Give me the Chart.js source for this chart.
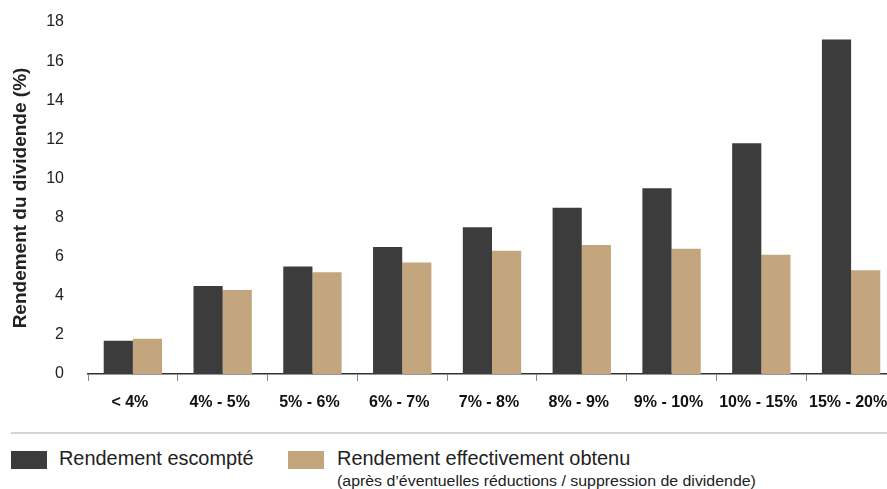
<!DOCTYPE html>
<html lang="fr">
<head>
<meta charset="utf-8">
<script src="https://cdn.jsdelivr.net/npm/chart.js@4/dist/chart.umd.min.js"></script>
<style>
  html, body { margin: 0; padding: 0; background: #fff; overflow: hidden; width: 887px; height: 489px; }
  #wrap { position: absolute; left: 0; top: 0; width: 896px; height: 413px; }
  #rule { position: absolute; left: 11px; top: 432px; width: 876px; height: 2px; background: #d4d4d4; }
  .sw { position: absolute; top: 451px; width: 36px; height: 18px; }
  .lbl { position: absolute; font-family: "Liberation Sans", Arial, sans-serif; color: #222; white-space: nowrap; transform-origin: left top; }
</style>
</head>
<body>
<div id="wrap"><canvas id="yieldChart"></canvas></div>
<div id="rule"></div>
<div class="sw" style="left:11px; background:#3c3c3c;"></div>
<div class="lbl" data-w="195" style="left:59px; top:447px; font-size:20px;">Rendement escompté</div>
<div class="sw" style="left:288px; background:#c4a67e;"></div>
<div class="lbl" data-w="293" style="left:337px; top:447px; font-size:20px;">Rendement effectivement obtenu</div>
<div class="lbl" data-w="419" style="left:337px; top:473px; font-size:14px;">(après d’éventuelles réductions / suppression de dividende)</div>
<script>
const categories = ["< 4%", "4% - 5%", "5% - 6%", "6% - 7%", "7% - 8%", "8% - 9%", "9% - 10%", "10% - 15%", "15% - 20%"];
const expectedYield = [1.7, 4.5, 5.5, 6.5, 7.5, 8.5, 9.5, 11.8, 17.1];
const actualYield = [1.8, 4.3, 5.2, 5.7, 6.3, 6.6, 6.4, 6.1, 5.3];

// fit legend text to the measured width of the original
document.querySelectorAll(".lbl").forEach(el => {
  const target = Number(el.dataset.w);
  el.style.transform = `scaleX(${target / el.scrollWidth})`;
});

const ctx = document.getElementById("yieldChart").getContext("2d");

new Chart(ctx, {
  type: "bar",
  data: {
    labels: categories,
    datasets: [
      { label: "Rendement escompté", data: expectedYield, backgroundColor: "#3c3c3c" },
      { label: "Rendement effectivement obtenu", data: actualYield, backgroundColor: "#c4a67e" }
    ]
  },
  options: {
    responsive: true,
    maintainAspectRatio: false,
    animation: false,
    layout: { padding: { top: 22, right: 0, bottom: 0, left: 0 } },
    categoryPercentage: 0.65,
    barPercentage: 1,
    plugins: { legend: { display: false }, tooltip: { enabled: false } },
    scales: {
      x: {
        grid: { display: true, drawOnChartArea: false, drawTicks: true, tickLength: 7, offset: true, color: "#888" },
        border: { display: true, color: "#333", width: 1.5 },
        ticks: { color: "#111", padding: 12, labelOffset: -3, font: { family: "Liberation Sans, Arial, sans-serif", size: 16, weight: "bold" } },
        afterFit: scale => { scale.height = 39; scale.paddingLeft = 0; scale.paddingRight = 0; }
      },
      y: {
        min: 0,
        max: 18,
        grid: { display: false },
        border: { display: false },
        ticks: { stepSize: 2, color: "#222", padding: 16, font: { family: "Liberation Sans, Arial, sans-serif", size: 16 } },
        title: {
          display: true,
          text: "Rendement du dividende (%)",
          color: "#222",
          padding: { top: 9, bottom: 0 },
          font: { family: "Liberation Sans, Arial, sans-serif", size: 19, weight: "bold" }
        },
        afterFit: scale => { scale.width = 88; scale.paddingTop = 0; scale.paddingBottom = 0; }
      }
    }
  }
});
</script>
</body>
</html>
